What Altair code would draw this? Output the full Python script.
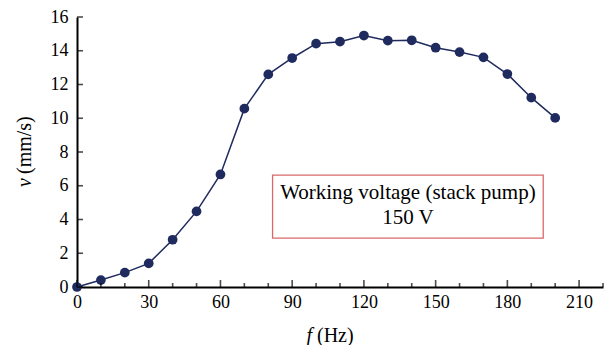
import altair as alt
import pandas as pd

# Data
freq = [0, 10, 20, 30, 40, 50, 60, 70, 80, 90, 100, 110, 120, 130, 140, 150, 160, 170, 180, 190, 200]
speed = [0.0, 0.41, 0.85, 1.4, 2.8, 4.48, 6.67, 10.57, 12.6, 13.57, 14.42, 14.54, 14.9, 14.6, 14.62, 14.18, 13.92, 13.61, 12.62, 11.22, 10.02]

x_labels = [0, 30, 60, 90, 120, 150, 180, 210]
x_minor = [10, 20, 40, 50, 70, 80, 100, 110, 130, 140, 160, 170, 190, 200, 220]
y_labels = [0, 2, 4, 6, 8, 10, 12, 14, 16]

box_x = [81.8, 195.0]
box_y = [2.9, 6.63]
note_lines = ["Working voltage (stack pump)", "150 V"]
note_x = [138.4, 138.4]
note_y = [5.56, 4.08]

FONT = "Liberation Serif, Times New Roman, serif"
NAVY = "#1f2a5e"
W, H = 526, 270

df = pd.DataFrame({"f": freq, "v": speed})
xscale = alt.Scale(domain=[0, 220], nice=False, zero=False)
yscale = alt.Scale(domain=[0, 16], nice=False)
xaxis = alt.Axis(values=x_labels, title=None, ticks=False, grid=False, labelPadding=6,
                 labelFlush=False, labelOverlap=False, labelFont=FONT, labelFontSize=18,
                 labelColor="black", domainColor="black", domainWidth=2)
yaxis = alt.Axis(values=y_labels, title=None, ticks=False, grid=False, labelPadding=9,
                 labelOverlap=False, labelFont=FONT, labelFontSize=18,
                 labelColor="black", domainColor="black", domainWidth=2)


def X(field):
    return alt.X(field, scale=xscale, axis=xaxis)


def Y(field):
    return alt.Y(field, scale=yscale, axis=yaxis)


line = alt.Chart(df).mark_line(color=NAVY, strokeWidth=1.5).encode(x=X("f:Q"), y=Y("v:Q"))
points = alt.Chart(df).mark_circle(color=NAVY, opacity=1, size=95).encode(x=X("f:Q"), y=Y("v:Q"))

major_ticks = alt.Chart(pd.DataFrame({"f": x_labels})).mark_tick(
    orient="vertical", color="black", size=7, thickness=1.6, yOffset=-3.5
).encode(x=X("f:Q"), y=alt.YDatum(0, scale=yscale, axis=yaxis))
minor_ticks = alt.Chart(pd.DataFrame({"f": x_minor})).mark_tick(
    orient="vertical", color="black", size=4, thickness=1.6, yOffset=-2
).encode(x=X("f:Q"), y=alt.YDatum(0, scale=yscale, axis=yaxis))
y_ticks = alt.Chart(pd.DataFrame({"v": y_labels})).mark_tick(
    orient="horizontal", color="black", size=6, thickness=1.6, xOffset=3
).encode(y=Y("v:Q"), x=alt.XDatum(0, scale=xscale, axis=xaxis))

box = alt.Chart(pd.DataFrame({"x1": [box_x[0]], "x2": [box_x[1]], "y1": [box_y[0]], "y2": [box_y[1]]})).mark_rect(
    fill="white", stroke="#d9686b", strokeWidth=1.3
).encode(x=X("x1:Q"), x2="x2:Q", y=Y("y1:Q"), y2="y2:Q")
note = alt.Chart(pd.DataFrame({"t": note_lines, "x": note_x, "y": note_y})).mark_text(
    font=FONT, fontSize=21, color="black", align="center", baseline="middle"
).encode(x=X("x:Q"), y=Y("y:Q"), text="t:N")

# axis titles with italic variable names
xt_f = alt.Chart(pd.DataFrame({"t": ["f"]})).mark_text(
    font=FONT, fontSize=20, fontStyle="italic", align="right", baseline="alphabetic", color="black"
).encode(x=alt.value(235), y=alt.value(325), text="t:N")
xt_u = alt.Chart(pd.DataFrame({"t": ["(Hz)"]})).mark_text(
    font=FONT, fontSize=20, align="left", baseline="alphabetic", color="black"
).encode(x=alt.value(240), y=alt.value(325), text="t:N")
yt_v = alt.Chart(pd.DataFrame({"t": ["v"]})).mark_text(
    font=FONT, fontSize=20, fontStyle="italic", align="right", baseline="middle", color="black", angle=270
).encode(x=alt.value(-52), y=alt.value(161), text="t:N")
yt_u = alt.Chart(pd.DataFrame({"t": ["(mm/s)"]})).mark_text(
    font=FONT, fontSize=20, align="left", baseline="middle", color="black", angle=270
).encode(x=alt.value(-52), y=alt.value(157), text="t:N")

chart = alt.layer(
    box, note, line, points, major_ticks, minor_ticks, y_ticks, xt_f, xt_u, yt_v, yt_u
).properties(
    width=W, height=H,
    autosize=alt.AutoSizeParams(type="none"),
    padding={"left": 69, "top": 9, "right": 5, "bottom": 58},
).configure_view(stroke=None)

chart.save("out.html", embed_options={"renderer": "svg", "actions": False})
